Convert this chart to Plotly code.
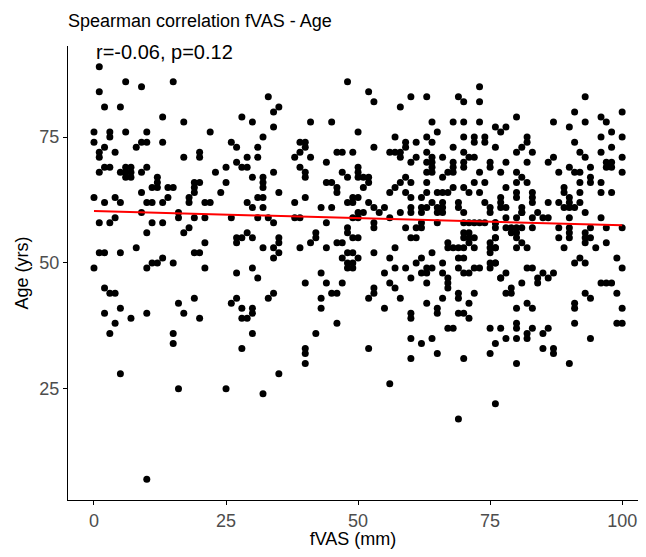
import plotly.graph_objects as go

# ---- data (fVAS in mm, Age in yrs) ----
pts_top_left = [(1,89),(6,86),(9,85),(15,86),(1,84),(2,81),(5,81),(13,79),(17,78),(0,76),(3,76),(6,76),(10,76),(22,76),
    (0,74),(3,75),(9,74),(10,74),(2,73),(8,73),(13,74),(1,72),(1,71),(4,72),(17,71),(20,72),(20,71),(1,68),(2,69),(3,69),
    (5,68),(6,69),(6,68),(6,67),(7,69),(7,68),(7,67),(9,68),(10,69),(23,68),(12,67),(12,66),(11,65),(12,65),(14,65),(15,65),
    (19,66),(20,66),(19,65),(19,64),(18,63),(18,62),(9,64),(0,63),(2,62),(4,63),(5,62),(10,62),(11,62),(13,62),(14,63),
    (21,62),(22,62)]
pts_top_mid = [(48,86),(33,83),(35,81),(34,80),(28,79),(30,78),(34,77),(41,78),(45,78),(50,76),(32,75),(26,74),(27,73),
    (31,73),(39,74),(40,74),(40,73),(39,72),(38,71),(41,71),(29,71),(31,71),(46,72),(47,72),(49,72),(27,70),(44,70),(28,69),
    (29,69),(25,69),(34,68),(39,69),(40,68),(40,67),(30,67),(32,67),(32,66),(32,65),(47,68),(48,67),(50,69),(50,68),(50,67),
    (25,66),(44,66),(45,66),(46,65),(46,64),(24,64),(35,64),(31,63),(32,63),(40,63),(29,62),(30,61),(32,61),(38,62),(43,61),
    (45,61),(48,62),(49,63),(50,63),(49,62)]
pts_top_right = [(73,85),(52,84),(53,82),(60,83),(63,83),(69,83),(70,82),(73,82),(58,81),(64,78),(68,78),(70,78),(73,78),
    (76,77),(77,76),(65,76),(57,75),(63,75),(70,75),(72,75),(74,75),(72,74),(74,74),(59,74),(59,73),(61,74),(64,74),(53,73),
    (68,73),(76,73),(56,72),(57,72),(58,72),(58,71),(63,72),(70,72),(61,71),(60,70),(64,71),(66,71),(71,71),(72,71),(63,70),
    (64,70),(70,70),(70,69),(68,70),(68,69),(75,70),(75,69),(64,69),(63,68),(64,68),(67,68),(68,68),(73,68),(77,68),(51,67),
    (52,67),(52,66),(51,65),(59,67),(58,66),(60,66),(57,65),(56,64),(59,64),(60,63),(63,66),(66,67),(68,65),(70,65),(72,66),
    (74,66),(73,64),(71,64),(65,64),(66,64),(67,64),(63,64),(62,63),(52,62),(53,61),(55,61),(58,60),(60,61),(60,60),(62,61),
    (63,61),(64,62),(66,62),(66,61),(65,61),(69,62),(69,61),(74,62),(75,61),(77,63),(77,62),(77,61)]
pts_top_far = [(93,83),(91,80),(100,80),(80,79),(87,78),(93,78),(90,77),(96,79),(97,78),(78,77),(98,76),(82,75),(82,74),
    (96,75),(100,75),(91,74),(81,73),(80,72),(83,72),(92,72),(93,71),(96,72),(98,73),(87,71),(86,70),(78,70),(82,70),(97,70),
    (98,70),(97,69),(98,69),(100,71),(90,69),(94,69),(80,68),(88,68),(91,68),(92,68),(100,68),(81,67),(80,66),(82,66),(94,67),
    (94,66),(92,66),(96,66),(78,65),(89,65),(89,64),(80,64),(80,63),(83,64),(83,63),(83,62),(92,64),(96,64),(98,64),(78,61),
    (81,61),(81,60),(84,60),(86,62),(88,62),(90,63),(90,62),(90,61),(89,61),(91,61),(92,62),(93,60)]
pts_mid_left = [(1,58),(3,58),(4,59),(9,60),(16,60),(16,59),(19,59),(21,59),(11,58),(13,58),(10,56),(17,56),(18,57),(1,52),
    (2,52),(5,52),(8,53),(19,52),(20,52),(21,54),(0,49),(10,49),(11,50),(12,50),(13,51),(15,50),(21,49),(2,45),(3,44),(4,44),
    (2,40),(4,38),(3,36),(5,41),(7,39),(10,40),(15,36),(15,34),(16,42),(17,40),(19,43),(20,39)]
pts_mid_mid = [(26,59),(31,59),(33,59),(34,58),(38,59),(39,59),(44,58),(49,59),(50,59),(27,55),(28,55),(29,56),(30,55),
    (27,54),(32,53),(35,55),(35,54),(34,53),(35,52),(34,51),(39,53),(41,54),(42,55),(42,56),(44,53),(46,54),(47,54),(48,57),
    (48,56),(49,55),(50,55),(47,51),(48,52),(49,52),(48,50),(49,50),(48,49),(49,49),(50,51),(27,48),(30,49),(31,47),(40,46),
    (43,48),(44,46),(47,46),(45,44),(46,44),(33,43),(34,44),(27,43),(26,42),(28,41),(30,41),(30,40),(28,39),(29,39),(43,43),
    (43,41),(46,38),(30,36),(42,36),(28,33),(40,33),(40,32),(40,30)]
pts_mid_right = [(50,60),(51,60),(54,60),(62,60),(65,60),(66,60),(70,60),(75,60),(53,58),(53,57),(56,59),(59,57),(61,57),
    (62,58),(62,57),(65,58),(70,58),(71,58),(72,58),(73,58),(74,58),(76,58),(70,56),(70,55),(71,56),(71,55),(72,55),(76,57),
    (60,55),(61,55),(67,54),(67,53),(68,53),(69,53),(70,53),(71,54),(72,53),(75,54),(75,53),(76,53),(75,52),(76,55),(53,52),
    (57,53),(56,51),(64,52),(62,51),(61,50),(66,50),(69,51),(70,51),(69,49),(70,48),(71,48),(72,49),(73,49),(75,50),(76,50),
    (75,49),(57,49),(59,49),(63,49),(64,49),(62,48),(63,48),(66,48),(55,48),(60,47),(67,47),(67,46),(67,45),(77,47),(56,46),
    (57,45),(53,45),(53,44),(52,43),(63,46),(58,43),(66,43),(69,44),(69,43),(72,44),(63,42),(71,42),(55,41),(65,41),(65,40),
    (60,40),(60,39),(69,40),(70,40),(71,39),(67,37),(68,37),(75,37),(77,37),(60,35),(64,35),(62,34),(76,34),(52,33),(65,32),
    (75,32),(60,31),(70,31)]
pts_mid_far = [(78,59),(80,59),(81,60),(83,59),(85,59),(86,59),(90,59),(96,59),(76,58),(78,57),(79,57),(80,57),(79,56),
    (80,56),(81,57),(80,55),(81,54),(80,53),(82,53),(83,57),(76,55),(76,53),(76,50),(88,57),(88,55),(90,57),(90,56),(90,55),
    (89,53),(93,56),(93,55),(93,54),(94,55),(94,57),(95,53),(97,57),(97,54),(100,57),(92,51),(91,50),(93,50),(99,51),(100,49),
    (82,49),(83,49),(85,48),(84,47),(84,46),(86,47),(87,48),(78,48),(77,47),(81,46),(79,45),(78,44),(79,44),(96,46),(97,46),
    (98,46),(93,44),(94,43),(99,44),(80,41),(82,42),(83,41),(91,42),(91,41),(100,41),(91,38),(99,38),(100,38),(80,38),(80,37),
    (83,37),(82,36),(82,35),(78,35),(80,35),(86,37),(85,36),(85,33),(87,33),(87,32),(94,35),(80,30),(90,30)]
pts_low = [(5,28),(16,25),(10,7),(25,25),(32,24),(35,28),(56,26),(69,19),(76,22)]

all_pts = (pts_top_left + pts_top_mid + pts_top_right + pts_top_far + pts_mid_left + pts_mid_mid
           + pts_mid_right + pts_mid_far + pts_low)
fvas = [p[0] for p in all_pts]
age = [p[1] for p in all_pts]

# fitted regression line
fit_x = [0, 100]
fit_y = [60.3, 57.5]

x_ticks = [0, 25, 50, 75, 100]
y_ticks = [25, 50, 75]

FONT = "Liberation Sans"
W, H = 630, 541  # page body has an 8px margin on every side

fig = go.Figure()
fig.add_trace(go.Scatter(x=fvas, y=age, mode="markers",
                         marker=dict(color="black", size=7, line=dict(width=0)),
                         showlegend=False, hoverinfo="x+y"))
fig.add_trace(go.Scatter(x=fit_x, y=fit_y, mode="lines",
                         line=dict(color="red", width=2), showlegend=False))

fig.update_layout(
    width=W, height=H,
    margin=dict(l=60, r=0, t=38, b=49, autoexpand=False),
    paper_bgcolor="white", plot_bgcolor="white",
    font=dict(family=FONT, color="black"),
    title=dict(text="Spearman correlation fVAS - Age", x=60/W, xanchor="left",
               xref="container", y=1-13/H, yanchor="middle", yref="container",
               font=dict(size=18, family=FONT, color="black")),
    xaxis=dict(range=[-4.92, 103.0], tickvals=x_ticks, ticktext=[str(v) for v in x_ticks],
               automargin=False,
               showgrid=False, zeroline=False, showline=True, linecolor="black", linewidth=1,
               ticks="outside", ticklen=4, tickcolor="black",
               tickfont=dict(size=18, color="#4d4d4d"),
               title=dict(text="fVAS (mm)", font=dict(size=18, color="black"), standoff=2)),
    yaxis=dict(range=[2.9, 93.1], tickvals=y_ticks, ticktext=[str(v) for v in y_ticks],
               automargin=False,
               showgrid=False, zeroline=False, showline=True, linecolor="black", linewidth=1,
               ticks="outside", ticklen=4, tickcolor="black",
               tickfont=dict(size=18, color="#4d4d4d"),
               title=dict(text="Age (yrs)", font=dict(size=18, color="black"), standoff=6)),
    annotations=[dict(text="r=-0.06, p=0.12", x=0, y=91.9, xref="x", yref="y",
                      xanchor="left", yanchor="middle", showarrow=False,
                      font=dict(size=20, family=FONT, color="black"))],
)

fig.write_html("out.html")
